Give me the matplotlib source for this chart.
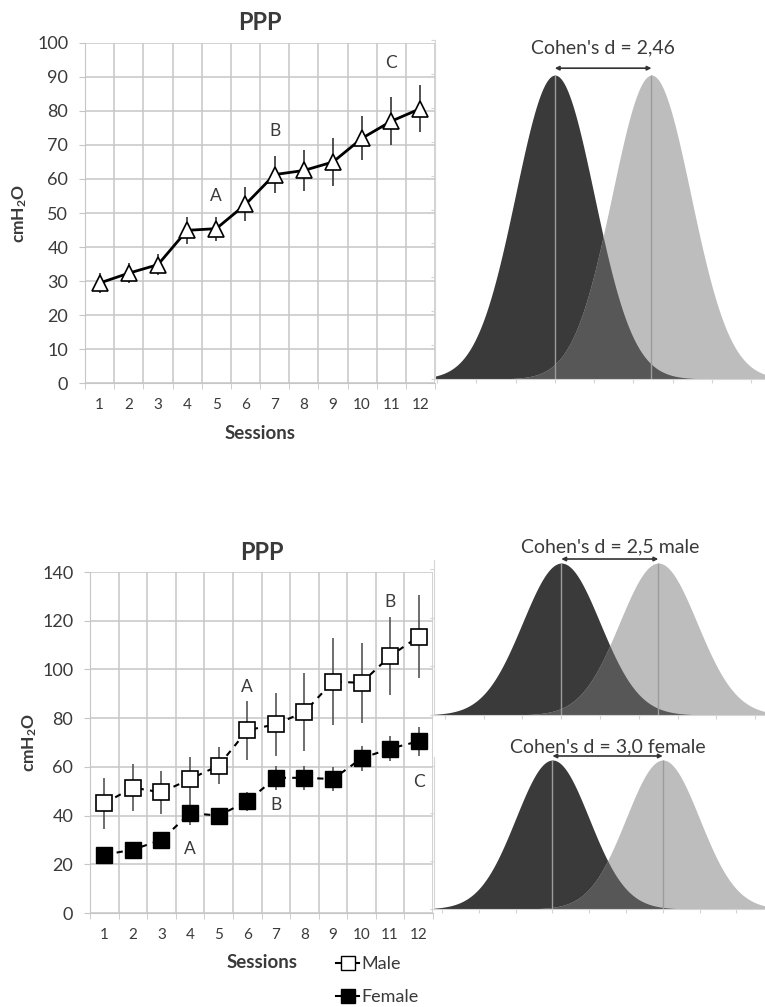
import numpy as np
import matplotlib
matplotlib.use('agg')
import matplotlib.pyplot as plt
from matplotlib.lines import Line2D

plt.rcParams['font.family'] = ['Lato', 'DejaVu Sans']
plt.rcParams['mathtext.default'] = 'regular'

# ---- data ----
sessions = np.arange(1, 13)

ppp_mean = [29.4, 32.3, 34.8, 44.9, 45.4, 52.5, 61.3, 62.5, 65.0, 72.0, 77.0, 80.7]
ppp_err = [3.0, 3.0, 3.0, 4.0, 3.5, 5.0, 5.5, 6.0, 7.0, 6.5, 7.0, 7.0]
ppp_letters = ['A', 'B', 'C']
ppp_letter_x = [5, 7, 11]
ppp_letter_y = [55, 74, 94]

male_mean = [45.0, 51.5, 49.5, 55.0, 60.5, 75.0, 77.5, 82.5, 95.0, 94.5, 105.5, 113.5]
male_err = [10.5, 9.5, 9.0, 9.0, 7.5, 12.0, 13.0, 16.0, 18.0, 16.5, 16.0, 17.0]
female_mean = [23.9, 26.0, 30.0, 41.0, 40.0, 45.8, 55.5, 55.5, 55.0, 63.5, 67.5, 70.5]
female_err = [2.0, 2.0, 2.5, 5.0, 3.0, 4.0, 5.0, 5.0, 5.0, 5.0, 5.0, 6.0]
sex_letters = ['A', 'B', 'A', 'B', 'C']
sex_letter_x = [6, 11, 4, 7, 12]
sex_letter_y = [92.7, 127.5, 26.4, 44.2, 53.8]

base_mean = 3.0
d_all = 2.46
d_male = 2.5
d_female = 3.0

# ---- styling ----
W, H = 765, 1007
grid_c = '#c6c6c6'
text_c = '#3a3a3a'
dark = '#3a3a3a'
light = '#bdbdbd'
mid = '#575757'

fig = plt.figure(figsize=(W / 100, H / 100), dpi=100)


def box(x0, y0, x1, y1):
    return [x0 / W, 1 - y1 / H, (x1 - x0) / W, (y1 - y0) / H]


def ftext(x, y, s, **kw):
    fig.text(x / W, 1 - y / H, s, ha='center', va='center', color=text_c, **kw)


def session_axes(rect, ymax, ystep):
    ax = fig.add_axes(rect)
    ax.set_xlim(0.5, 12.5)
    ax.set_ylim(0, ymax)
    ax.set_xticks(sessions)
    ax.set_xticks(np.arange(0.5, 13, 1), minor=True)
    ax.set_yticks(np.arange(0, ymax + 1, ystep))
    ax.grid(True, which='minor', axis='x', color=grid_c, lw=1.1)
    ax.grid(True, which='major', axis='y', color=grid_c, lw=1.1)
    ax.set_axisbelow(True)
    ax.tick_params(axis='x', which='major', length=0, labelsize=11, pad=11, labelcolor=text_c)
    ax.tick_params(axis='x', which='minor', length=4, color=grid_c)
    ax.tick_params(axis='y', length=4, color=grid_c, labelsize=13, pad=8, labelcolor=text_c)
    for s in ['top', 'right']:
        ax.spines[s].set_visible(False)
    ax.spines['left'].set_color(grid_c)
    ax.spines['bottom'].set_color(grid_c)
    return ax


def normal(x, m):
    return np.exp(-0.5 * (x - m) ** 2) / np.sqrt(2 * np.pi)


def dist_axes(rect, d, xlim, ytop, yticks, label, arrow_y, text_y):
    ax = fig.add_axes(rect)
    x = np.linspace(xlim[0], xlim[1], 800)
    m1, m2 = base_mean, base_mean + d
    g1, g2 = normal(x, m1), normal(x, m2)
    ax.fill_between(x, 0, g1, color=dark, lw=0)
    ax.fill_between(x, 0, g2, color=light, lw=0)
    ax.fill_between(x, 0, np.minimum(g1, g2), color=mid, lw=0)
    peak = normal(m1, m1)
    ax.vlines([m1, m2], 0, peak, color='#9c9c9c', lw=1)
    ax.annotate('', xy=(m1, arrow_y), xytext=(m2, arrow_y),
                arrowprops=dict(arrowstyle='<|-|>', color='#333333', lw=1.2,
                                mutation_scale=6, shrinkA=0, shrinkB=0),
                annotation_clip=False)
    ax.text((m1 + m2) / 2, text_y, label, ha='center', va='center',
            fontsize=14, color=text_c, clip_on=False)
    ax.set_xlim(*xlim)
    ax.set_ylim(0, ytop)
    ax.set_xticks(np.arange(0, 9))
    ax.set_yticks(yticks)
    ax.tick_params(length=3, color='#d5d5d5', labelbottom=False, labelleft=False)
    for s in ['top', 'right']:
        ax.spines[s].set_visible(False)
    ax.spines['left'].set_color('#d5d5d5')
    ax.spines['bottom'].set_color('#d5d5d5')
    return ax


# ---- top left: PPP all ----
ax1 = session_axes(box(85, 43, 435, 383), 100, 10)
ax1.errorbar(sessions, ppp_mean, yerr=ppp_err, fmt='none', ecolor='#333333', elinewidth=1.2, zorder=2)
ax1.plot(sessions, ppp_mean, color='black', lw=2, marker='^', ms=11,
         mfc='white', mec='black', mew=1.2, zorder=3)
for s, x, y in zip(ppp_letters, ppp_letter_x, ppp_letter_y):
    ax1.text(x, y, s, ha='center', va='center', fontsize=12.5, color=text_c)
ax1.set_ylabel('cmH$_2$O', fontsize=12.5, fontweight='bold', color=text_c)
ax1.yaxis.set_label_coords(-0.16, 0.5)
ftext(260, 23, 'PPP', fontsize=17, fontweight='bold')
ftext(260, 433, 'Sessions', fontsize=13.5, fontweight='bold')

# ---- top right: effect size ----
dist_axes(box(435, 40, 765, 379), d_all, (-0.05, 8.35), 0.445,
          np.linspace(0, 0.445, 11), "Cohen's d = 2,46", 0.408, 0.4345)

# ---- bottom left: PPP by sex ----
ax2 = session_axes(box(90, 572, 433, 913), 140, 20)
ax2.errorbar(sessions, male_mean, yerr=male_err, fmt='none', ecolor='#555555', elinewidth=1.2, zorder=2)
ax2.errorbar(sessions, female_mean, yerr=female_err, fmt='none', ecolor='#555555', elinewidth=1.2, zorder=2)
ax2.plot(sessions, male_mean, color='black', lw=1.5, ls=(0, (3, 3)), marker='s', ms=11,
         mfc='white', mec='black', mew=1.2, zorder=3)
ax2.plot(sessions, female_mean, color='black', lw=1.5, ls=(0, (3, 3)), marker='s', ms=11,
         mfc='black', mec='black', zorder=3)
for s, x, y in zip(sex_letters, sex_letter_x, sex_letter_y):
    ax2.text(x, y, s, ha='center', va='center', fontsize=12.5, color=text_c)
ax2.set_ylabel('cmH$_2$O', fontsize=12.5, fontweight='bold', color=text_c)
ax2.yaxis.set_label_coords(-0.15, 0.5)
ftext(262, 552, 'PPP', fontsize=17, fontweight='bold')
ftext(262, 962, 'Sessions', fontsize=13.5, fontweight='bold')

handles = [
    Line2D([], [], color='black', lw=1.5, marker='s', ms=10, mfc='white', mec='black'),
    Line2D([], [], color='black', lw=1.5, marker='s', ms=10, mfc='black', mec='black'),
]
fig.legend(handles, ['Male', 'Female'], loc='upper left',
           bbox_to_anchor=(336 / W, 1 - 956 / H), frameon=False, fontsize=13,
           handlelength=1.3, handletextpad=0.1, labelspacing=0.95, labelcolor=text_c,
           borderpad=0, borderaxespad=0)

# ---- bottom right: effect size by sex ----
dist_axes(box(434, 560, 765, 715), d_male, (-0.28, 8.25), 0.407,
          [0, 0.128, 0.256, 0.384], "Cohen's d = 2,5 male", 0.4096, 0.441)
dist_axes(box(434, 757, 765, 909), d_female, (-0.22, 8.78), 0.407,
          [0, 0.128, 0.256, 0.384], "Cohen's d = 3,0 female", 0.4097, 0.434)

fig.savefig('out.png', dpi=100)
